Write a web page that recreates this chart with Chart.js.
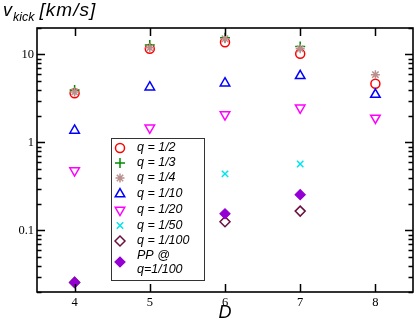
<!DOCTYPE html>
<html>
<head>
<meta charset="utf-8">
<script src="https://cdn.jsdelivr.net/npm/chart.js@4"></script>
<style>
html,body{margin:0;padding:0;background:#fff;}
#wrap{width:415px;height:320px;position:relative;}
</style>
</head>
<body>
<div id="wrap"><canvas id="c" width="415" height="320"></canvas></div>
<script>
// ---- data ----
const D = [4, 5, 6, 7, 8];
const q2   = [3.63, 11.6, 13.8, 10.2, 4.64];
const q3   = [3.95, 12.8, 15.5, 12.3, null];
const q4   = [3.75, 11.9, 15.1, 11.6, 5.9];
const q10  = [1.37, 4.25, 4.72, 5.73, 3.51];
const q20  = [0.48, 1.47, 2.08, 2.48, 1.9];
const q50  = [null, null, 0.44, 0.57, null];
const q100 = [0.0257, null, 0.126, 0.166, null];
const pp100 = [0.0257, null, 0.155, 0.255, null];
const seriesLabels = ['q = 1/2','q = 1/3','q = 1/4','q = 1/10','q = 1/20','q = 1/50','q = 1/100',['PP @','q=1/100']];
const yTickValues = [0.1, 1, 10];
const yTickLabels = ['0.1', '1', '10'];
const xTickValues = [4, 5, 6, 7, 8];
const xTickLabels = ['4', '5', '6', '7', '8'];

const seriesValues = [q2, q3, q4, q10, q20, q50, q100, pp100];
const styles = [
  {pointStyle:'circle',   radius:4.5, rot:0,   border:'#ff0000', fill:'rgba(0,0,0,0)', bw:1.5},
  {pointStyle:'cross',    radius:5,   rot:0,   border:'#008c00', fill:'rgba(0,0,0,0)', bw:1.5},
  {pointStyle:'star',     radius:4.5, rot:0,   border:'#bc8f8f', fill:'rgba(0,0,0,0)', bw:1.5},
  {pointStyle:'triangle', radius:5.5, rot:0,   border:'#0000ff', fill:'rgba(0,0,0,0)', bw:1.5},
  {pointStyle:'triangle', radius:5.5, rot:180, border:'#ff00ff', fill:'rgba(0,0,0,0)', bw:1.5},
  {pointStyle:'crossRot', radius:4.5, rot:0,   border:'#00e5ee', fill:'rgba(0,0,0,0)', bw:1.5},
  {pointStyle:'rectRot',  radius:5,   rot:0,   border:'#6a1040', fill:'rgba(0,0,0,0)', bw:1.5},
  {pointStyle:'rectRot',  radius:5,   rot:0,   border:'#9400d3', fill:'#9400d3',       bw:1.2}
];

const datasets = seriesValues.map((vals, i) => ({
  label: Array.isArray(seriesLabels[i]) ? seriesLabels[i].join(' ') : seriesLabels[i],
  data: D.map((d, j) => vals[j] == null ? null : {x: d, y: vals[j]}).filter(p => p),
  pointStyle: styles[i].pointStyle,
  pointRadius: styles[i].radius,
  pointRotation: styles[i].rot,
  borderColor: styles[i].border,
  backgroundColor: styles[i].fill,
  pointBorderWidth: styles[i].bw,
  showLine: false,
  order: -i
}));

const framePlugin = {
  id: 'frame',
  afterDatasetsDraw(chart) {
    const ctx = chart.ctx;
    const a = chart.chartArea;
    const xs = chart.scales.x, ys = chart.scales.y;
    ctx.save();
    ctx.strokeStyle = '#000';
    ctx.lineWidth = 1.6;
    ctx.strokeRect(a.left, a.top, a.right - a.left, a.bottom - a.top);
    ctx.lineWidth = 1.5;
    ctx.beginPath();
    xTickValues.forEach(v => {
      const px = Math.round(xs.getPixelForValue(v)) + 0.5;
      ctx.moveTo(px, a.bottom); ctx.lineTo(px, a.bottom - 8);
      ctx.moveTo(px, a.top); ctx.lineTo(px, a.top + 8);
    });
    for (let dec = -2; dec <= 1; dec++) {
      for (let m = 1; m <= 9; m++) {
        const v = m * Math.pow(10, dec);
        if (v < ys.min - 1e-9 || v > ys.max + 1e-9) continue;
        const py = Math.round(ys.getPixelForValue(v)) + 0.5;
        const len = (m === 1) ? 8 : 4.5;
        ctx.moveTo(a.left, py); ctx.lineTo(a.left + len, py);
        ctx.moveTo(a.right, py); ctx.lineTo(a.right - len, py);
      }
    }
    ctx.stroke();

    // titles
    ctx.fillStyle = '#000';
    ctx.textBaseline = 'alphabetic';
    ctx.textAlign = 'left';
    ctx.font = 'italic 18px "Liberation Sans", Arial, sans-serif';
    ctx.fillText('v', 3, 16);
    let w = ctx.measureText('v').width;
    ctx.font = 'italic 12.5px "Liberation Sans", Arial, sans-serif';
    ctx.fillText('kick', 3 + w + 1, 21);
    let w2 = ctx.measureText('kick').width;
    ctx.font = 'italic 19px "Liberation Sans", Arial, sans-serif';
    ctx.letterSpacing = '1px';
    ctx.fillText('[km/s]', 3 + w + 1 + w2 + 5, 16);
    ctx.letterSpacing = '0px';
    ctx.font = 'italic 18px "Liberation Sans", Arial, sans-serif';
    ctx.textAlign = 'center';
    ctx.fillText('D', xs.getPixelForValue(6), 318);

    // legend
    const bx = 111, by = 138, bw = 93, bh = 142;
    ctx.lineWidth = 1;
    ctx.strokeStyle = '#333';
    ctx.strokeRect(bx + 0.5, by + 0.5, bw, bh);
    const rowsY = [148, 163, 178, 194, 210, 225.5, 241, 262];
    ctx.textAlign = 'left';
    ctx.textBaseline = 'middle';
    ctx.font = 'italic 12.5px "Liberation Sans", Arial, sans-serif';
    styles.forEach((s, i) => {
      const y = rowsY[i];
      ctx.save();
      ctx.strokeStyle = s.border;
      ctx.fillStyle = s.fill;
      ctx.lineWidth = s.bw;
      Chart.helpers.drawPoint(ctx, {pointStyle: s.pointStyle, radius: s.radius, rotation: s.rot, borderWidth: s.bw}, 120, y);
      ctx.restore();
      ctx.fillStyle = '#000';
      const lab = seriesLabels[i];
      if (Array.isArray(lab)) {
        ctx.fillText(lab[0], 137, y - 6.5);
        ctx.fillText(lab[1], 137, y + 7.5);
      } else {
        ctx.fillText(lab, 137, y);
      }
    });
    ctx.restore();
  }
};

new Chart(document.getElementById('c'), {
  type: 'scatter',
  data: { datasets },
  options: {
    responsive: false,
    animation: false,
    devicePixelRatio: 1,
    layout: { autoPadding: false, padding: { left: 0, top: 28, right: 2, bottom: 0 } },
    plugins: { legend: { display: false }, tooltip: { enabled: false } },
    scales: {
      x: {
        type: 'linear', min: 3.5, max: 8.5,
        afterBuildTicks: s => { s.ticks = xTickValues.map(v => ({value: v})); },
        afterFit: s => { s.height = 28; s.paddingLeft = 0; s.paddingRight = 0; },
        grid: { display: false, drawTicks: false },
        border: { display: false },
        ticks: {
          padding: 3, color: '#000',
          font: { family: '"Liberation Serif", "Times New Roman", serif', size: 12.5 },
          callback: v => { const k = xTickValues.indexOf(v); return k >= 0 ? xTickLabels[k] : ''; }
        }
      },
      y: {
        type: 'logarithmic', min: 0.02, max: 20,
        afterBuildTicks: s => { s.ticks = yTickValues.map(v => ({value: v, major: true})); },
        afterFit: s => { s.width = 37; s.paddingTop = 0; s.paddingBottom = 0; },
        grid: { display: false, drawTicks: false },
        border: { display: false },
        ticks: {
          padding: 3, color: '#000',
          font: { family: '"Liberation Serif", "Times New Roman", serif', size: 12.5 },
          callback: v => { const k = yTickValues.findIndex(t => Math.abs(t - v) < 1e-9); return k >= 0 ? yTickLabels[k] : ''; }
        }
      }
    }
  },
  plugins: [framePlugin]
});
</script>
</body>
</html>
